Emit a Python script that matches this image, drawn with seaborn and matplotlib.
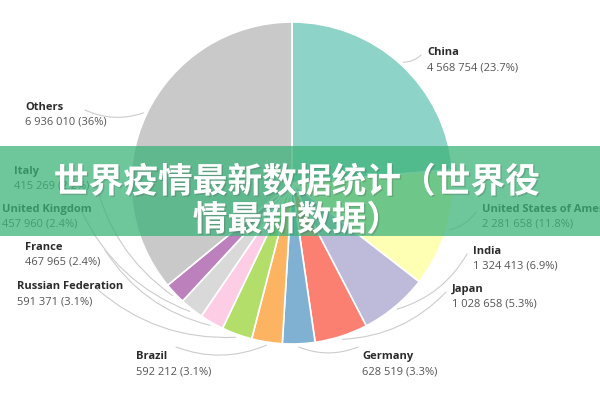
import matplotlib
matplotlib.use("Agg")
import matplotlib.pyplot as plt
import seaborn as sns
import numpy as np
import matplotlib.patheffects as pe

countries = ["China", "United States of America", "India", "Japan", "Germany",
             "Brazil", "Russian Federation", "France", "United Kingdom", "Italy", "Others"]
values = [4568754, 2281658, 1324413, 1028658, 628519,
          592212, 591371, 467965, 457960, 415269, 6936010]
pct_labels = ["23.7%", "11.8%", "6.9%", "5.3%", "3.3%",
              "3.1%", "3.1%", "2.4%", "2.4%", "2.2%", "36%"]
title_lines = ["世界疫情最新数据统计（世界役", "情最新数据）"]

sns.set_theme(style="white")
plt.rcParams['font.family'] = ['Open Sans', 'DejaVu Sans']

set3 = sns.color_palette("Set3", 12)
colors = list(set3[:10]) + ["#c9c9c9"]

fig = plt.figure(figsize=(6, 4), dpi=100)
ax = fig.add_axes([0, 0, 1, 1])
ax.set_xlim(0, 600)
ax.set_ylim(0, 400)
ax.set_aspect('equal')
ax.axis('off')

cx, cy, R = 292, 400 - 183, 161
wedges, _ = ax.pie(values, colors=colors, startangle=90, counterclock=False,
                   center=(cx, cy), radius=R,
                   wedgeprops=dict(edgecolor='white', linewidth=1.2))
ax.set_xlim(0, 600)
ax.set_ylim(0, 400)

# label positions (pixel coords, top-left of name line) and leader line start
label_pos = {
    "China": (427, 47, "left"),
    "United States of America": (482, 204, "left"),
    "India": (473, 246, "left"),
    "Japan": (452, 284, "left"),
    "Germany": (362, 351, "left"),
    "Brazil": (136, 351, "left"),
    "Russian Federation": (17, 281, "left"),
    "France": (25, 242, "left"),
    "United Kingdom": (2, 204, "left"),
    "Italy": (14, 166, "left"),
    "Others": (25, 102, "left"),
}

def fmt(v):
    return f"{v:,}".replace(",", " ")

for w, name, v, p in zip(wedges, countries, values, pct_labels):
    x, y, ha = label_pos[name]
    ax.text(x, 400 - y, name, fontsize=8, fontweight='bold', color='#2b2b2b',
            ha=ha, va='top')
    ax.text(x, 400 - y - 15, f"{fmt(v)} ({p})", fontsize=8, color='#555555',
            ha=ha, va='top')
    ang = np.deg2rad((w.theta1 + w.theta2) / 2)
    px, py = cx + R * 1.02 * np.cos(ang), cy + R * 1.02 * np.sin(ang)
    if x > cx:
        sx = x - 6
    else:
        sx = x + 60 if name in ("Others", "Brazil") else x + 80
    sy = 400 - y - 8
    if name in ("Brazil", "Germany"):
        sy = 400 - y + 4
        sx = x + 40 if name == "Brazil" else x - 4
    ax.annotate("", xy=(px, py), xytext=(sx, sy),
                arrowprops=dict(arrowstyle='-', color='#cccccc', lw=0.8,
                                connectionstyle="arc3,rad=-0.2" if x > cx else "arc3,rad=0.2",
                                shrinkA=0, shrinkB=0))

# green banner overlay
ax.add_patch(plt.Rectangle((0, 400 - 236), 600, 90, facecolor='#3db37a',
                           alpha=0.75, edgecolor='none', zorder=5))

for i, line in enumerate(title_lines):
    ax.text(297, 400 - (182 + i * 38), line, fontsize=25, fontweight='heavy',
            color='white', ha='center', va='center', zorder=6,
            family=['Noto Sans CJK SC', 'DejaVu Sans'],
            path_effects=[pe.withSimplePatchShadow(offset=(1, -1), alpha=0.25)])

fig.savefig("out.png", dpi=100)
